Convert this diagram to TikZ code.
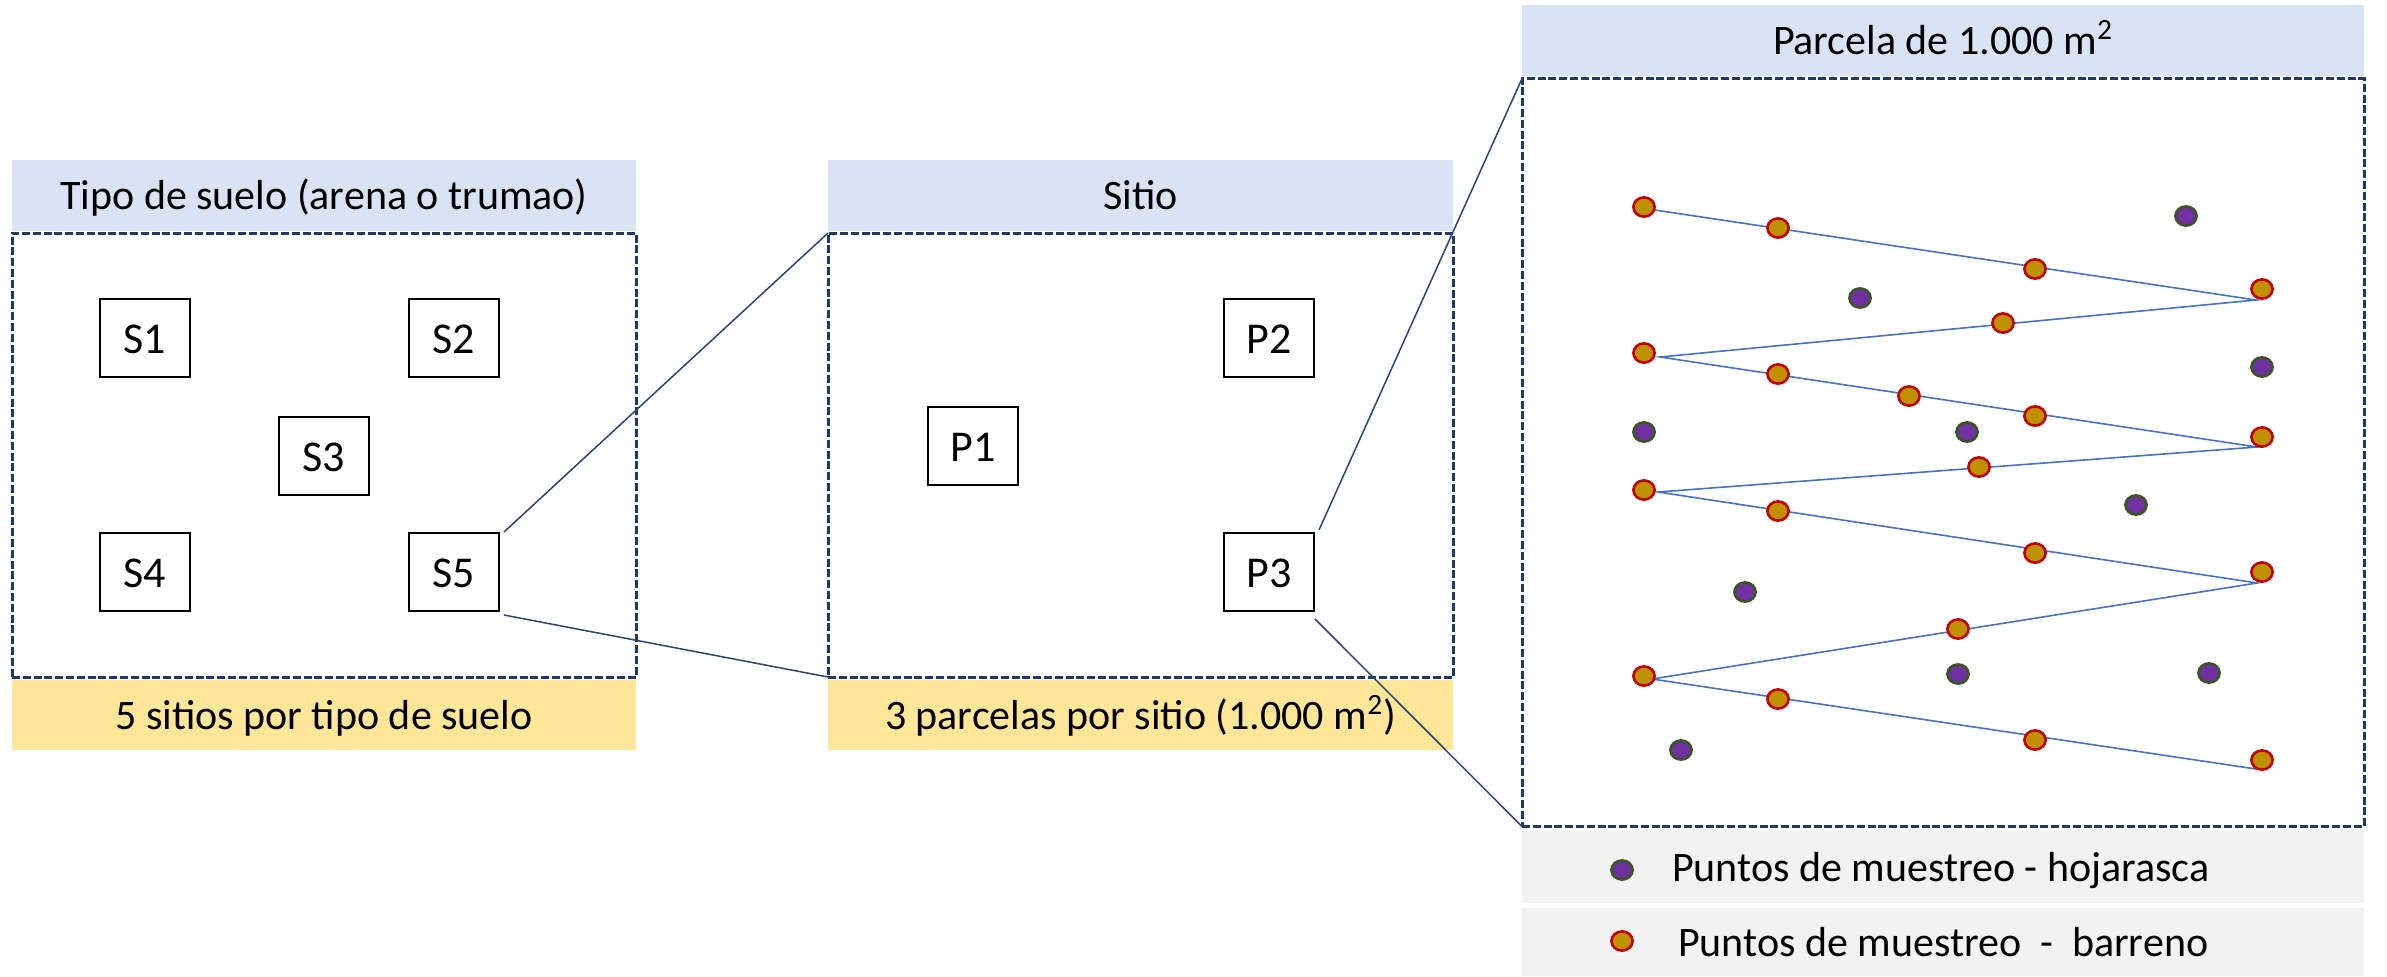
\documentclass[tikz,border=0pt]{standalone}
\usepackage{fontspec}
\setmainfont{Carlito}
\usetikzlibrary{shapes.geometric}

\definecolor{hdrblue}{HTML}{DAE3F3}
\definecolor{ftryellow}{HTML}{FFE699}
\definecolor{lgdgrey}{HTML}{F2F2F2}
\definecolor{framecol}{HTML}{203864}
\definecolor{zoomcol}{HTML}{2B4472}
\definecolor{zigcol}{HTML}{4472C4}
\definecolor{augerfill}{HTML}{BF9000}
\definecolor{augerdraw}{HTML}{C00000}
\definecolor{litterfill}{HTML}{7030A0}
\definecolor{litterdraw}{HTML}{385723}

\newcommand\bandfont{\fontsize{21}{25}\selectfont}
\newcommand\boxfont{\fontsize{22}{26}\selectfont}

\begin{document}
\begin{tikzpicture}[x=0.5pt,y=-0.5pt,
  bandtext/.style={inner sep=0pt, outer sep=0pt, font=\bandfont,
    text height=20pt, text depth=5.6pt},
  hdr/.style={bandtext, fill=hdrblue},
  ftr/.style={bandtext, fill=ftryellow},
  lgd/.style={bandtext, fill=lgdgrey},
  zoomframe/.style={draw=framecol, line width=1.5pt,
    dash pattern=on 4pt off 1.4pt, inner sep=0pt, outer sep=0pt},
  unitbox/.style={draw=black, line width=1pt, fill=white, inner sep=0pt,
    minimum width=45pt, minimum height=39pt, font=\boxfont,
    text height=20.9pt, text depth=5.9pt},
  zoomln/.style={draw=zoomcol, line width=0.75pt},
  zigln/.style={draw=zigcol, line width=0.8pt, line join=miter},
  dot/.style={ellipse, inner sep=0pt, minimum width=10.6pt,
    minimum height=9.6pt, line width=1.3pt},
  auger/.style={dot, fill=augerfill, draw=augerdraw},
  litter/.style={dot, fill=litterfill, draw=litterdraw}]

\useasboundingbox (0,0) rectangle (2387,976);

% ---------- soil type panel ----------
\node[hdr, minimum width=312pt, minimum height=35.5pt] (soilhdr) at (324,195.5)
  {Tipo de suelo (arena o trumao)};
\node[zoomframe, minimum width=312pt, minimum height=222pt] (soilframe) at (324,455) {};
\node[ftr, minimum width=312pt, minimum height=35pt] (soilftr) at (324,715)
  {5 sitios por tipo de suelo};
\node[unitbox] (S1) at (145,338) {S1};
\node[unitbox] (S2) at (454,338) {S2};
\node[unitbox] (S3) at (324,456) {S3};
\node[unitbox] (S4) at (145,572) {S4};
\node[unitbox] (S5) at (454,572) {S5};

% ---------- site panel ----------
\node[hdr, minimum width=312.5pt, minimum height=35.5pt] (sitehdr) at (1140.5,195.5) {Sitio};
\node[zoomframe, minimum width=312.5pt, minimum height=222pt] (siteframe) at (1140.5,455) {};
\node[ftr, minimum width=312.5pt, minimum height=35pt] (siteftr) at (1140.5,715)
  {3 parcelas por sitio (1.000 m\textsuperscript{2})};
\node[unitbox] (P1) at (973,446) {P1};
\node[unitbox] (P2) at (1269,338) {P2};
\node[unitbox] (P3) at (1269,572) {P3};

% ---------- plot panel ----------
\node[hdr, minimum width=421pt, minimum height=35.5pt] (plothdr) at (1943,40.5)
  {Parcela de 1.000 m\textsuperscript{2}};
\node[zoomframe, minimum width=421pt, minimum height=374pt] (plotframe) at (1943,452.5) {};
\node[lgd, minimum width=421pt, minimum height=36pt] (lgd1) at (1943,867) {};
\node[lgd, minimum width=421pt, minimum height=34pt] (lgd2) at (1943,942) {};

% zoom connectors
\draw[zoomln] ([xshift=2pt]S5.north east) -- (siteframe.north west);
\draw[zoomln] ([xshift=2pt,yshift=-1.5pt]S5.south east) -- (siteframe.south west);
\draw[zoomln] ([xshift=2pt,yshift=1pt]P3.north east) -- (plotframe.north west);
\draw[zoomln] ([yshift=-3.5pt]P3.south east) -- (plotframe.south west);

% zig-zag auger transect
\coordinate (z0) at (1648,209);
\coordinate (z1) at (2256,300);
\coordinate (z2) at (1660,357);
\coordinate (z3) at (2257,447);
\coordinate (z4) at (1658,492);
\coordinate (z5) at (2257,583);
\coordinate (z6) at (1652,679);
\coordinate (z7) at (2256,769);
\draw[zigln] (z0) -- (z1) -- (z2) -- (z3) -- (z4) -- (z5) -- (z6) -- (z7);

% auger sampling points
\foreach \p [count=\i] in {(1644,207),(1778,228),(2035,269),(2262,289),
    (2003,323),(1644,353),(1778,374),(1909,396),(2035,416),(2262,437),
    (1979,467),(1644,490),(1778,511),(2035,553),(2262,572),(1958,629),
    (1644,676),(1778,699),(2035,740),(2262,760)}
  \node[auger] (b\i) at \p {};

% litter sampling points
\foreach \p [count=\i] in {(2186,216),(1860,298),(2262,367),(1644,432),
    (1967,432),(2136,505),(1745,592),(1958,674),(2209,673),(1681,750)}
  \node[litter] (h\i) at \p {};

% legend
\node[litter] (lgdlitter) at (1622,870) {};
\node[bandtext, anchor=west] (lgdlittertext) at (1672,867)
  {Puntos de muestreo - hojarasca};
\node[auger] (lgdauger) at (1622,941) {};
\node[bandtext, anchor=west] (lgdaugertext) at (1678,942)
  {Puntos de muestreo\ \ -\ \ barreno};
\end{tikzpicture}
\end{document}
